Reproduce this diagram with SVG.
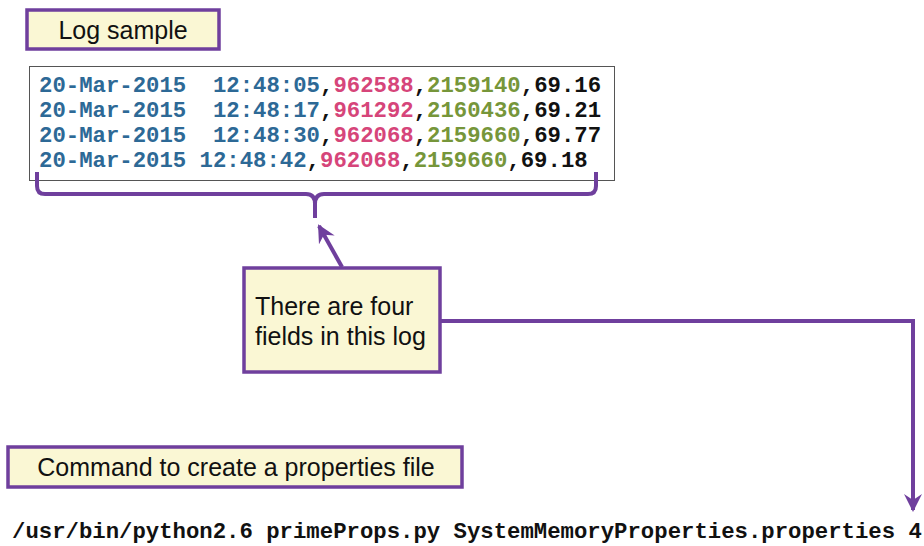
<svg xmlns="http://www.w3.org/2000/svg" width="924" height="546" viewBox="0 0 924 546">
<style>
.box{fill:#faf7d4;stroke:#6f3f9d;stroke-width:3.5}
.lbl{font-family:"Liberation Sans",Arial,sans-serif;font-size:25px;fill:#111}
.mono{font-family:"Liberation Mono","Courier New",monospace;font-weight:bold;font-size:22.3px;white-space:pre}
.b{fill:#2d6996}.p{fill:#d6457a}.g{fill:#76963a}.k{fill:#111}
.conn{fill:none;stroke:#6f3f9d;stroke-width:4;stroke-linejoin:miter}
</style>
<defs>
<marker id="ah" viewBox="0 0 18 18" refX="16" refY="9" markerWidth="18" markerHeight="18" markerUnits="userSpaceOnUse" orient="auto">
<path d="M0,0 L18,9 L0,18 L6,9 Z" fill="#6f3f9d"/>
</marker>
</defs>
<rect width="924" height="546" fill="#fff"/>
<g id="log-sample-label">
<rect class="box" x="27" y="10" width="192" height="39"/>
<text class="lbl" x="123" y="39" text-anchor="middle">Log sample</text>
</g>
<g id="log-box">
<rect x="29.5" y="66.5" width="585" height="114" fill="#fff" stroke="#555" stroke-width="1"/>
<text class="mono" x="39" y="92" xml:space="preserve"><tspan class="b">20-Mar-2015  12:48:05</tspan><tspan class="k">,</tspan><tspan class="p">962588</tspan><tspan class="k">,</tspan><tspan class="g">2159140</tspan><tspan class="k">,69.16</tspan></text>
<text class="mono" x="39" y="117" xml:space="preserve"><tspan class="b">20-Mar-2015  12:48:17</tspan><tspan class="k">,</tspan><tspan class="p">961292</tspan><tspan class="k">,</tspan><tspan class="g">2160436</tspan><tspan class="k">,69.21</tspan></text>
<text class="mono" x="39" y="142" xml:space="preserve"><tspan class="b">20-Mar-2015  12:48:30</tspan><tspan class="k">,</tspan><tspan class="p">962068</tspan><tspan class="k">,</tspan><tspan class="g">2159660</tspan><tspan class="k">,69.77</tspan></text>
<text class="mono" x="39" y="167" xml:space="preserve"><tspan class="b">20-Mar-2015 12:48:42</tspan><tspan class="k">,</tspan><tspan class="p">962068</tspan><tspan class="k">,</tspan><tspan class="g">2159660</tspan><tspan class="k">,69.18</tspan></text>
</g>
<g id="callout">
<rect class="box" x="244" y="268" width="196" height="104" stroke-width="3"/>
<text class="lbl" x="255" y="315">There are four</text>
<text class="lbl" x="255" y="345">fields in this log</text>
</g>
<g id="command-label">
<rect class="box" x="8" y="447" width="454" height="40"/>
<text class="lbl" x="236" y="476" text-anchor="middle">Command to create a properties file</text>
</g>
<g id="command">
<text class="mono k" x="12" y="538">/usr/bin/python2.6 primeProps.py SystemMemoryProperties.properties 4</text>
</g>
<g id="connectors">
<path class="conn" d="M37,172 L37,186 Q37,194 45,194 L306,194 Q315,194 315,204 L315,218 M315,204 Q315,194 324,194 L588,194 Q596,194 596,186 L596,172"/>
<path class="conn" d="M342,267 L319,226" marker-end="url(#ah)"/>
<path class="conn" d="M441,321 L913,321 L913,510" marker-end="url(#ah)"/>
</g>
</svg>
